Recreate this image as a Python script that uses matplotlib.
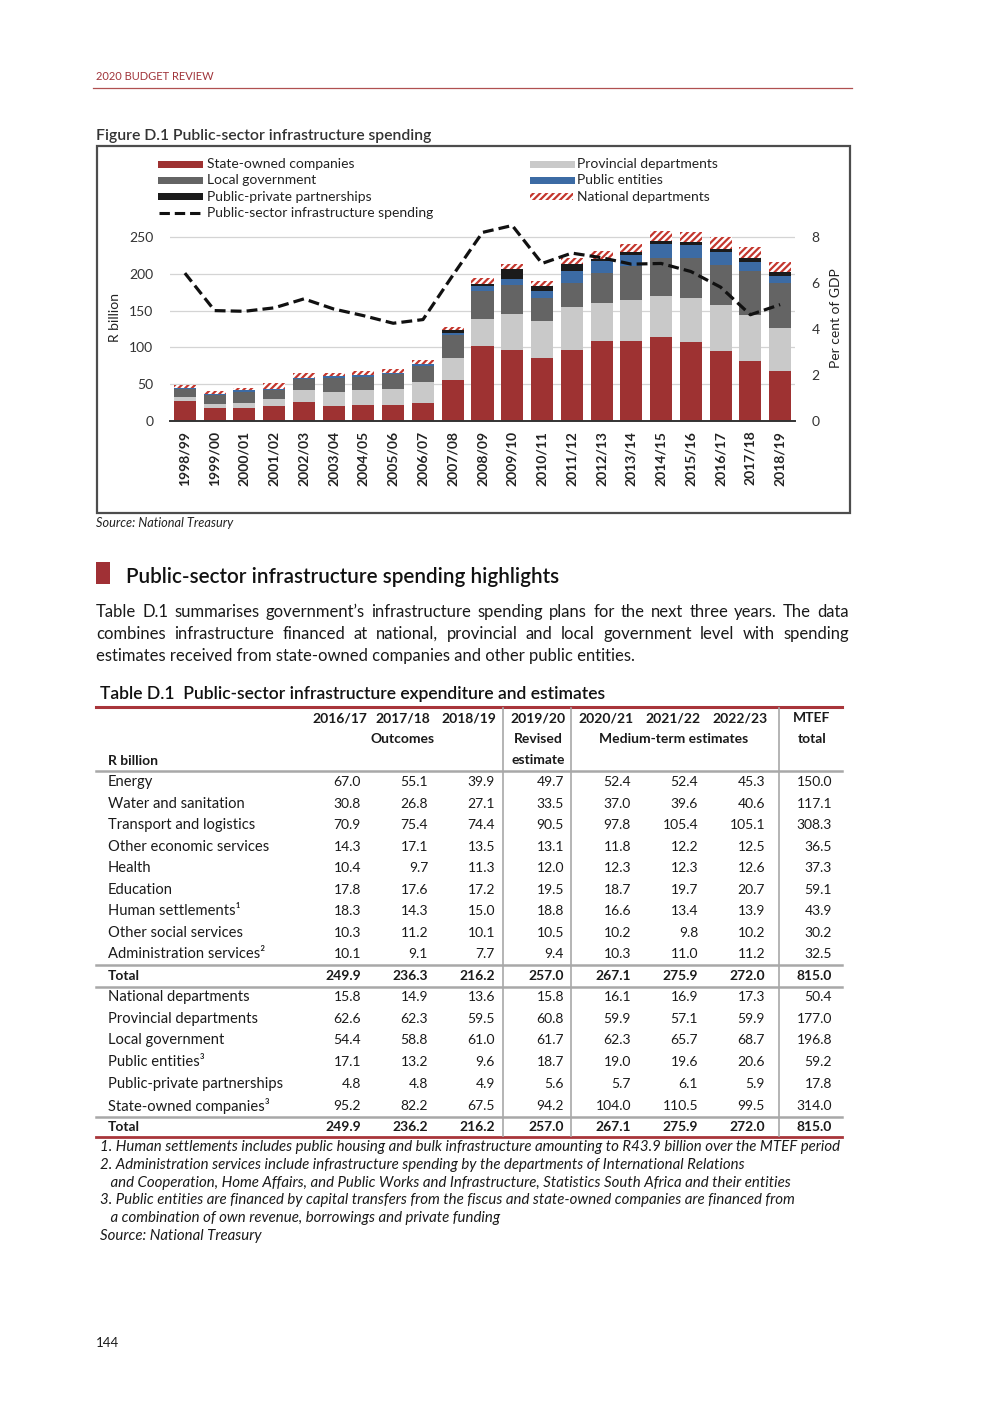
import numpy as np
import matplotlib.pyplot as plt
from matplotlib.patches import Rectangle

plt.rcParams['font.family'] = ['Lato', 'DejaVu Sans']
plt.rcParams['hatch.linewidth'] = 1.6

# Figure D.1 data (R billion)
years = ['1998/99', '1999/00', '2000/01', '2001/02', '2002/03', '2003/04', '2004/05',
         '2005/06', '2006/07', '2007/08', '2008/09', '2009/10', '2010/11', '2011/12',
         '2012/13', '2013/14', '2014/15', '2015/16', '2016/17', '2017/18', '2018/19']
soc = [27, 17, 17, 20, 26, 21, 22, 22, 25, 56, 102, 97, 86, 97, 109, 109, 114, 108, 95.2, 82.2, 67.5]
prov = [6, 6, 7, 10, 16, 19, 20, 22, 28, 30, 36, 48, 50, 58, 51, 56, 56, 59, 62.6, 62.3, 59.5]
local = [10, 13, 16, 12, 15, 19, 18, 20, 22, 31, 38, 40, 31, 33, 41, 46, 52, 54, 54.4, 58.8, 61.0]
pub_ent = [2, 1, 2, 1.5, 2, 2, 3, 1.5, 3, 3, 7, 8, 9, 16, 17, 15, 19, 18, 17.1, 13.2, 9.6]
ppp = [0, 0, 0, 0, 0, 0, 0, 0, 0, 3, 3, 14, 7, 9, 2, 3, 4, 4, 4.8, 4.8, 4.9]
nat = [4, 4, 3, 8, 6, 4, 5, 5, 5, 5, 8, 6, 7, 8, 11, 11, 13, 14, 15.8, 14.9, 13.6]
gdp_pct = [6.43, 4.8, 4.77, 4.92, 5.31, 4.87, 4.58, 4.25, 4.41, 6.33, 8.2, 8.5, 6.85,
           7.3, 7.1, 6.82, 6.85, 6.5, 5.82, 4.62, 5.06]

# Table D.1 data
tab_years = ['2016/17', '2017/18', '2018/19', '2019/20', '2020/21', '2021/22', '2022/23', 'MTEF']
sector_rows = ['Energy', 'Water and sanitation', 'Transport and logistics',
               'Other economic services', 'Health', 'Education', 'Human settlements\u00b9',
               'Other social services', 'Administration services\u00b2']
sector_vals = [
    [67.0, 55.1, 39.9, 49.7, 52.4, 52.4, 45.3, 150.0],
    [30.8, 26.8, 27.1, 33.5, 37.0, 39.6, 40.6, 117.1],
    [70.9, 75.4, 74.4, 90.5, 97.8, 105.4, 105.1, 308.3],
    [14.3, 17.1, 13.5, 13.1, 11.8, 12.2, 12.5, 36.5],
    [10.4, 9.7, 11.3, 12.0, 12.3, 12.3, 12.6, 37.3],
    [17.8, 17.6, 17.2, 19.5, 18.7, 19.7, 20.7, 59.1],
    [18.3, 14.3, 15.0, 18.8, 16.6, 13.4, 13.9, 43.9],
    [10.3, 11.2, 10.1, 10.5, 10.2, 9.8, 10.2, 30.2],
    [10.1, 9.1, 7.7, 9.4, 10.3, 11.0, 11.2, 32.5],
]
sector_total = [249.9, 236.3, 216.2, 257.0, 267.1, 275.9, 272.0, 815.0]
agency_rows = ['National departments', 'Provincial departments', 'Local government',
               'Public entities\u00b3', 'Public-private partnerships', 'State-owned companies\u00b3']
agency_vals = [
    [15.8, 14.9, 13.6, 15.8, 16.1, 16.9, 17.3, 50.4],
    [62.6, 62.3, 59.5, 60.8, 59.9, 57.1, 59.9, 177.0],
    [54.4, 58.8, 61.0, 61.7, 62.3, 65.7, 68.7, 196.8],
    [17.1, 13.2, 9.6, 18.7, 19.0, 19.6, 20.6, 59.2],
    [4.8, 4.8, 4.9, 5.6, 5.7, 6.1, 5.9, 17.8],
    [95.2, 82.2, 67.5, 94.2, 104.0, 110.5, 99.5, 314.0],
]
agency_total = [249.9, 236.2, 216.2, 257.0, 267.1, 275.9, 272.0, 815.0]

footnotes = [
    '1. Human settlements includes public housing and bulk infrastructure amounting to R43.9 billion over the MTEF period',
    '2. Administration services include infrastructure spending by the departments of International Relations',
    '   and Cooperation, Home Affairs, and Public Works and Infrastructure, Statistics South Africa and their entities',
    '3. Public entities are financed by capital transfers from the fiscus and state-owned companies are financed from',
    '   a combination of own revenue, borrowings and private funding',
    'Source: National Treasury',
]

RED = '#9e3232'
LGREY = '#c9c9c9'
DGREY = '#646464'
BLUE = '#3c6ba4'
BLACK = '#1b1b1b'
HATCH = '#c4372e'
TXT = '#1a1a1a'

W, H = 1008, 1425
fig = plt.figure(figsize=(W / 100, H / 100), dpi=100)

# page overlay in pixel coordinates
page = fig.add_axes([0, 0, 1, 1])
page.set_xlim(0, W)
page.set_ylim(H, 0)
page.axis('off')


def fbox(x0, y0, x1, y1):
    return [x0 / W, 1 - y1 / H, (x1 - x0) / W, (y1 - y0) / H]


# header
page.text(96, 76, '2020 BUDGET REVIEW', fontsize=8, color='#a0343a', va='center')
page.plot([93, 852], [88, 88], color='#b05050', lw=0.9)
page.text(96, 136, 'Figure D.1 Public-sector infrastructure spending', fontsize=11.3,
          color='#333333', va='center', weight='semibold')
page.add_patch(Rectangle((97, 146), 753, 367, fill=False, ec='#4d4d4d', lw=1.6))

# chart
ymax = 280
ax = fig.add_axes(fbox(170, 421 - ymax * 0.736, 795, 421))
x = np.arange(len(years))
bw = 0.74
bottom = np.zeros(len(years))
for vals, col in [(soc, RED), (prov, LGREY), (local, DGREY), (pub_ent, BLUE), (ppp, BLACK)]:
    ax.bar(x, vals, bw, bottom=bottom, color=col, lw=0, zorder=3)
    bottom += np.array(vals)
ax.bar(x, nat, bw, bottom=bottom, facecolor='white', edgecolor=HATCH, hatch='/////', lw=0, zorder=3)

ax.set_xlim(-0.5, len(years) - 0.5)
ax.set_ylim(0, ymax)
ax.set_yticks(range(0, 251, 50))
ax.grid(axis='y', color='#d4d4d4', lw=0.9, zorder=0)
for s in ['top', 'right', 'left']:
    ax.spines[s].set_visible(False)
ax.spines['bottom'].set_color('#333333')
ax.spines['bottom'].set_linewidth(1.4)
ax.spines['bottom'].set_zorder(4)
ax.set_xticks(x)
ax.set_xticklabels(years, rotation=90, fontsize=10, weight='bold', color='#222222')
ax.tick_params(axis='x', length=0, pad=7)
ax.tick_params(axis='y', length=0, labelsize=10, labelcolor='#333333', pad=12)
ax.set_ylabel('R billion', fontsize=10, color='#222222', labelpad=6)
ax.patch.set_alpha(0)

ax2 = ax.twinx()
ax2.plot(x, gdp_pct, color='#111111', lw=2.3, ls=(0, (3.4, 1.6)), zorder=5)
ax2.set_ylim(0, ymax * 8 / 250)
ax2.set_yticks([0, 2, 4, 6, 8])
for s in ['top', 'right', 'left', 'bottom']:
    ax2.spines[s].set_visible(False)
ax2.tick_params(axis='y', length=0, labelsize=10, labelcolor='#333333', pad=12)
ax2.set_ylabel('Per cent of GDP', fontsize=10, color='#222222', labelpad=7)

# legend
leg_left = [('State-owned companies', RED, None), ('Local government', DGREY, None),
            ('Public-private partnerships', BLACK, None), ('Public-sector infrastructure spending', None, 'line')]
leg_right = [('Provincial departments', LGREY, None), ('Public entities', BLUE, None),
             ('National departments', 'white', 'hatch')]
for items, px, tx in [(leg_left, 158, 207), (leg_right, 530, 577)]:
    for i, (lab, col, kind) in enumerate(items):
        yy = 164 + i * 16.3
        if kind == 'line':
            page.plot([159, 204], [yy, yy], color='#111111', lw=2.2, ls=(0, (3.4, 1.6)))
        elif kind == 'hatch':
            page.add_patch(Rectangle((px, yy - 3.5), 43, 7, facecolor='white', edgecolor=HATCH,
                                     hatch='/////', lw=0))
        else:
            page.add_patch(Rectangle((px, yy - 3.5), 45, 7, color=col, lw=0))
        page.text(tx, yy, lab, fontsize=10, color='#222222', va='center')

page.text(96, 523, 'Source: National Treasury', fontsize=9.2, style='italic', color='#222222', va='center')

# section heading
page.add_patch(Rectangle((96, 562), 14, 22, color='#a03035', lw=0))
page.text(126, 577, 'Public-sector infrastructure spending highlights', fontsize=14.9,
          weight='semibold', color='#111111', va='center')

# justified paragraph
para = ['Table D.1 summarises government\u2019s infrastructure spending plans for the next three years. The data',
        'combines infrastructure financed at national, provincial and local government level with spending',
        'estimates received from state-owned companies and other public entities.']
pfs = 12
renderer = fig.canvas.get_renderer()
for li, line in enumerate(para):
    yy = 612 + li * 22
    if li == len(para) - 1:
        page.text(96, yy, line, fontsize=pfs, color=TXT, va='center')
        continue
    words = line.split(' ')
    arts = [page.text(0, yy, w, fontsize=pfs, color=TXT, va='center') for w in words]
    widths = [a.get_window_extent(renderer).width for a in arts]
    gap = (849 - 96 - sum(widths)) / (len(words) - 1)
    xx = 96
    for a, w in zip(arts, widths):
        a.set_x(xx)
        xx += w + gap

# table
page.text(100, 694, 'Table D.1  Public-sector infrastructure expenditure and estimates', fontsize=12.6,
          weight='semibold', color='#111111', va='center')
page.plot([96, 842], [706.5, 706.5], color='#a8353a', lw=2.2)
hdr_cx = [340, 403, 469, 538, 606, 673, 740, 812]
col_rx = [361, 428, 495, 564, 631, 698, 765, 832]
tfs = 10
lfs = 10.6
for cx, yl in zip(hdr_cx, tab_years):
    page.text(cx, 718, yl, fontsize=tfs, weight='bold', ha='center', va='center', color=TXT)
page.text(403, 739, 'Outcomes', fontsize=tfs, weight='bold', ha='center', va='center', color=TXT)
page.text(538, 739, 'Revised', fontsize=tfs, weight='bold', ha='center', va='center', color=TXT)
page.text(538, 760, 'estimate', fontsize=tfs, weight='bold', ha='center', va='center', color=TXT)
page.text(674, 739, 'Medium-term estimates', fontsize=tfs, weight='bold', ha='center', va='center', color=TXT)
page.text(812, 739, 'total', fontsize=tfs, weight='bold', ha='center', va='center', color=TXT)
page.text(108, 761, 'R billion', fontsize=tfs, weight='bold', va='center', color=TXT)


def table_row(yy, label, vals, bold=False):
    wt = 'bold' if bold else 'normal'
    page.text(108, yy, label, fontsize=tfs if bold else lfs, weight=wt, va='center', color=TXT)
    for rx, v in zip(col_rx, vals):
        page.text(rx, yy, f'{v:.1f}', fontsize=tfs, weight=wt, ha='right', va='center', color=TXT)


for i, (lab, vals) in enumerate(zip(sector_rows, sector_vals)):
    table_row(782 + i * 21.5, lab, vals)
table_row(975.5, 'Total', sector_total, bold=True)
for i, (lab, vals) in enumerate(zip(agency_rows, agency_vals)):
    table_row(997 + i * 21.7, lab, vals)
table_row(1127, 'Total', agency_total, bold=True)

for yy in [770.5, 964.5, 986.5, 1116.5]:
    page.plot([96, 842], [yy, yy], color='#a8a8a8', lw=1.8)
page.plot([96, 842], [1137, 1137], color='#a8353a', lw=2.0)
for vx in [503, 571, 779]:
    page.plot([vx, vx], [708, 1136], color='#a8a8a8', lw=1.2)

for i, fn in enumerate(footnotes):
    yy = 1147 + i * 17.8
    page.text(100, yy, fn, fontsize=10.8, style='italic', color=TXT, va='center')

page.text(96, 1343, '144', fontsize=9.5, color=TXT, va='center')

fig.savefig('out.png', dpi=100)
